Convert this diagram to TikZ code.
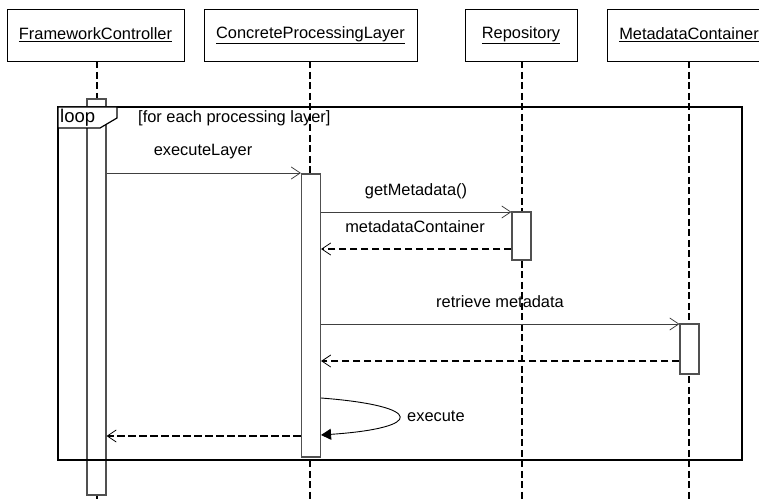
\documentclass[tikz,border=0pt]{standalone}
\usepackage{fontspec}
\setmainfont{Liberation Sans}
\usetikzlibrary{arrows.meta}
\definecolor{actgray}{HTML}{505050}
\definecolor{msggray}{HTML}{404040}
\tikzset{
  head/.style={draw=black, line width=0.9pt, fill=white, inner sep=0pt, minimum height=52pt},
  act/.style={draw=actgray, line width=1.1pt, fill=white, inner sep=0pt, minimum width=19pt},
  lifeline/.style={draw=black, line width=2pt, dash pattern=on 7pt off 3.5pt},
  msg/.style={draw=msggray, line width=0.9pt, -{Straight Barb[length=9pt,width=12pt,line width=0.8pt]}},
  ret/.style={draw=black, line width=1.8pt, dash pattern=on 7.5pt off 3.5pt, -{Straight Barb[length=9pt,width=12pt,line width=0.8pt]}},
  selfmsg/.style={draw=black, line width=0.9pt, -{Triangle[length=10pt,width=11pt]}},
  lbl/.style={inner sep=0pt, anchor=center},
  frame/.style={draw=black, line width=1.2pt},
}
\begin{document}
\begin{tikzpicture}[x=1pt, y=-1pt, font=\fontsize{16.4}{19}\selectfont]
\useasboundingbox (0,0) rectangle (759,502);
\clip (0,0) rectangle (759,502);
% loop frame
\draw[frame] (58,107) rectangle (742,460);
\node[lbl, anchor=west] (guard) at (138,118) {[for each processing layer]};
% heads
\node[head, minimum width=177pt] (fc) at (95.5,35) {\underline{FrameworkController}};
\node[head, minimum width=213pt] (cpl) at (310.5,35) {\underline{ConcreteProcessingLayer}};
\node[head, minimum width=112pt] (rep) at (521,35) {\underline{Repository}};
\node[head, minimum width=164pt] (mc) at (689,35) {\underline{MetadataContainer}};
% lifeline ends
\coordinate (fcend) at (96.5,502);
\coordinate (cplend) at (310,502);
\coordinate (repend) at (522,502);
\coordinate (mcend) at (689,502);
\draw[lifeline] (fc.south -| fcend) -- (fcend);
\draw[lifeline] (cpl.south -| cplend) -- (cplend);
\draw[lifeline] (rep.south -| repend) -- (repend);
\draw[lifeline] (mc.south -| mcend) -- (mcend);
% activations
\node[act, minimum height=396pt] (fcact) at (96.5,297) {};
\node[act, minimum height=283pt] (cplact) at (311,315.5) {};
\node[act, minimum height=48pt] (repact) at (521.5,236) {};
\node[act, minimum height=50pt] (mcact) at (689.5,349) {};
% frame lines crossing the controller activation
\draw[frame] (fcact.west |- 0,107) -- (fcact.east |- 0,107);
\draw[frame] (fcact.west |- 0,460) -- (fcact.east |- 0,460);
% loop tab
\draw[frame, fill=white] (58,107) -- (58,128) -- (100,128) -- (117,118) -- (117,107) -- cycle;
\node[lbl, anchor=west] (looplbl) at (60,118) {\fontsize{18.5}{20}\selectfont loop};
% messages
\draw[msg] (fcact.east |- 0,173) -- (cplact.west |- 0,173);
\node[lbl] (m1) at (203,152) {executeLayer};
\draw[msg] (cplact.east |- 0,212) -- (repact.west |- 0,212);
\node[lbl] (m2) at (416,191) {getMetadata()};
\draw[ret] (repact.west |- 0,249) -- (cplact.east |- 0,249);
\node[lbl] (m3) at (415,227) {metadataContainer};
\draw[msg] (cplact.east |- 0,324) -- (mcact.west |- 0,324);
\node[lbl] (m4) at (500,302) {retrieve metadata};
\draw[ret] (mcact.west |- 0,361) -- (cplact.east |- 0,361);
\coordinate (s1) at (cplact.east |- 0,398);
\coordinate (s2) at (cplact.east |- 0,435);
\draw[selfmsg] (s1) .. controls (425,406) and (425,428) .. (s2);
\node[lbl, anchor=west] (m5) at (407,416) {execute};
\draw[ret] (cplact.west |- 0,436) -- (fcact.east |- 0,436);
\end{tikzpicture}
\end{document}
